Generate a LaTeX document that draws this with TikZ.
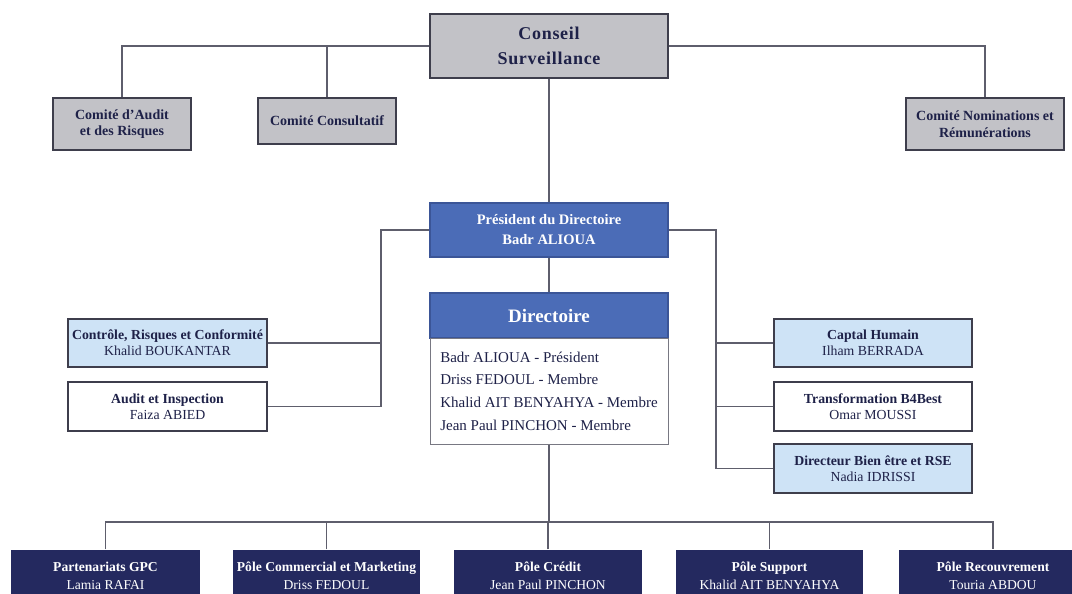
\documentclass[tikz,border=0pt]{standalone}
\usepackage{fontspec}
\setmainfont{Liberation Serif}
\newfontfamily\spacedfont[LetterSpace=4]{Liberation Serif}
\definecolor{gfill}{HTML}{C2C2C7}
\definecolor{gborder}{HTML}{3E3E4C}
\definecolor{bluefill}{HTML}{4B6CB7}
\definecolor{blueborder}{HTML}{3B5597}
\definecolor{lightfill}{HTML}{CEE3F6}
\definecolor{navyfill}{HTML}{24295F}
\definecolor{txtnavy}{HTML}{1E2148}
\definecolor{linec}{HTML}{5E5E6C}
\tikzset{
  conn/.style={draw=linec, line width=1.1pt},
  basebox/.style={rectangle, inner sep=0pt, align=center, line width=1.4pt},
  graybox/.style={basebox, draw=gborder, fill=gfill, text=txtnavy, font=\bfseries\fontsize{14}{16.5}\selectfont},
  bluebox/.style={basebox, draw=blueborder, fill=bluefill, text=white},
  lightbox/.style={basebox, draw=gborder, fill=lightfill, text=txtnavy, font=\fontsize{13.8}{16}\selectfont},
  whitebox/.style={basebox, draw=gborder, fill=white, text=txtnavy, font=\fontsize{13.8}{16}\selectfont},
  navybox/.style={basebox, draw=none, fill=navyfill, text=white, font=\fontsize{13.6}{18}\selectfont},
}
\begin{document}
\begin{tikzpicture}[x=1pt, y=-1pt]
\useasboundingbox (0,0) rectangle (1072,594);
\clip (0,0) rectangle (1072,594);
\fill[white] (0,0) rectangle (1072,594);

% --- top level
\node[graybox, minimum width=238pt, minimum height=64pt, font=\bfseries\fontsize{18}{25}\selectfont\spacedfont] (conseil) at (549,46) {Conseil\\Surveillance};
\node[graybox, minimum width=138pt, minimum height=52pt] (caudit) at (122,124) {Comité d’Audit\\et des Risques};
\node[graybox, minimum width=138pt, minimum height=46pt] (cconsult) at (327,121) {Comité Consultatif};
\node[graybox, minimum width=158pt, minimum height=52pt] (cnom) at (985,124) {Comité Nominations et\\Rémunérations};

% --- directoire
\node[bluebox, minimum width=238pt, minimum height=54pt, font=\bfseries\fontsize{14.5}{20}\selectfont] (pres) at (549,230) {Président du Directoire\\Badr ALIOUA};
\node[bluebox, minimum width=238pt, minimum height=45pt, font=\bfseries\fontsize{19}{22}\selectfont] (dirhead) at (549,315.5) {Directoire};
\node[basebox, draw=gborder!70, line width=1pt, fill=white, text=txtnavy, minimum width=238pt, minimum height=106pt, align=left, font=\fontsize{15}{22.7}\selectfont] (dirbody) at (549,391) {Badr ALIOUA - Président\\Driss FEDOUL - Membre\\Khalid AIT BENYAHYA - Membre\\Jean Paul PINCHON - Membre};

% --- left staff
\node[lightbox, minimum width=199pt, minimum height=48pt] (controle) at (167.5,343) {{\bfseries Contrôle, Risques et Conformité}\\Khalid BOUKANTAR};
\node[whitebox, minimum width=199pt, minimum height=49pt] (auditi) at (167.5,406.5) {{\bfseries Audit et Inspection}\\Faiza ABIED};

% --- right staff
\node[lightbox, minimum width=198pt, minimum height=48pt] (capital) at (873,343) {{\bfseries Captal Humain}\\Ilham BERRADA};
\node[whitebox, minimum width=198pt, minimum height=49pt] (transfo) at (873,406.5) {{\bfseries Transformation B4Best}\\Omar MOUSSI};
\node[lightbox, minimum width=198pt, minimum height=49pt] (dirbe) at (873,468.5) {{\bfseries Directeur Bien être et RSE}\\Nadia IDRISSI};

% --- poles
\node[navybox, minimum width=189pt, minimum height=52pt] (p1) at (105.5,576) {{\bfseries Partenariats GPC}\\Lamia RAFAI};
\node[navybox, minimum width=187pt, minimum height=52pt] (p2) at (326.5,576) {{\bfseries Pôle Commercial et Marketing}\\Driss FEDOUL};
\node[navybox, minimum width=188pt, minimum height=52pt] (p3) at (548,576) {{\bfseries Pôle Crédit}\\Jean Paul PINCHON};
\node[navybox, minimum width=187pt, minimum height=52pt] (p4) at (769.5,576) {{\bfseries Pôle Support}\\Khalid AIT BENYAHYA};
\node[navybox, minimum width=188pt, minimum height=52pt] (p5) at (993,576) {{\bfseries Pôle Recouvrement}\\Touria ABDOU};

% --- connectors
\draw[conn] (conseil.west) -| (caudit.north);
\draw[conn] (cconsult.north) -- (cconsult.north |- conseil.west);
\draw[conn] (conseil.east) -| (cnom.north);
\draw[conn] (conseil.south) -- (pres.north);
\draw[conn] (pres.south) -- (dirhead.north);

\coordinate (lx) at (381,230);
\coordinate (rx) at (716,230);
\draw[conn] (pres.west) -- (lx) |- (auditi.east);
\draw[conn] (controle.east) -- (controle.east -| lx);
\draw[conn] (pres.east) -- (rx) |- (dirbe.west);
\draw[conn] (capital.west) -- (capital.west -| rx);
\draw[conn] (transfo.west) -- (transfo.west -| rx);

\coordinate (bar) at (549,522);
\draw[conn] (dirbody.south) -- (dirbody.south |- bar);
\draw[conn] (p1.north) -- (p1.north |- bar) -- (p5.north |- bar) -- (p5.north);
\draw[conn] (p2.north) -- (p2.north |- bar);
\draw[conn] (p3.north) -- (p3.north |- bar);
\draw[conn] (p4.north) -- (p4.north |- bar);
\end{tikzpicture}
\end{document}
